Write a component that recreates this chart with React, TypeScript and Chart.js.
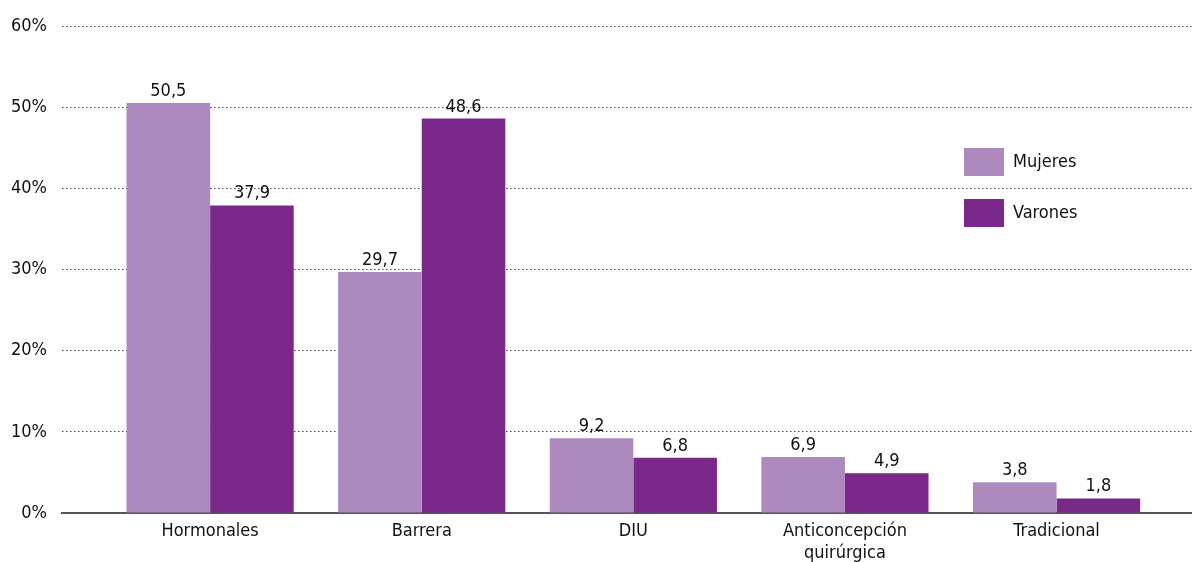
import React, { useEffect, useRef } from "react";
import { Chart, registerables } from "chart.js";

Chart.register(...registerables);

const categories: (string | string[])[] = [
  "Hormonales",
  "Barrera",
  "DIU",
  ["Anticoncepción", "quirúrgica"],
  "Tradicional",
];
const seriesNames = ["Mujeres", "Varones"];
const mujeres = [50.5, 29.7, 9.2, 6.9, 3.8];
const varones = [37.9, 48.6, 6.8, 4.9, 1.8];
const colors = ["#ad89bd", "#7a2889"];
const yTicks = [0, 10, 20, 30, 40, 50, 60];

const FONT = "'DejaVu Sans Condensed', 'DejaVu Sans', sans-serif";
const FS = 18;

const valueLabels = {
  id: "valueLabels",
  afterDatasetsDraw(chart: any) {
    const ctx = chart.ctx;
    ctx.save();
    ctx.font = `${FS}px ${FONT}`;
    ctx.fillStyle = "#111";
    ctx.textAlign = "center";
    ctx.textBaseline = "alphabetic";
    chart.data.datasets.forEach((ds: any, di: number) => {
      const meta = chart.getDatasetMeta(di);
      meta.data.forEach((bar: any, i: number) => {
        const v = ds.data[i].y;
        ctx.fillText(String(v).replace(".", ","), bar.x, bar.y - 7);
      });
    });
    ctx.restore();
  },
};

const customLegend = {
  id: "customLegend",
  afterDraw(chart: any) {
    const ctx = chart.ctx;
    ctx.save();
    ctx.font = `${FS}px ${FONT}`;
    ctx.textAlign = "left";
    ctx.textBaseline = "middle";
    seriesNames.forEach((name, i) => {
      const y = 148 + i * 51;
      ctx.fillStyle = colors[i];
      ctx.fillRect(964, y, 40, 28);
      ctx.fillStyle = "#111";
      ctx.fillText(name, 1013, y + 14);
    });
    ctx.restore();
  },
};

export default function App() {
  const ref = useRef<HTMLCanvasElement>(null);
  useEffect(() => {
    if (!ref.current) return;
    const chart = new Chart(ref.current, {
      type: "bar",
      data: {
        datasets: [
          {
            label: seriesNames[0],
            data: mujeres.map((y, i) => ({ x: i, y })),
            backgroundColor: colors[0],
            borderWidth: 0,
          },
          {
            label: seriesNames[1],
            data: varones.map((y, i) => ({ x: i, y })),
            backgroundColor: colors[1],
            borderWidth: 0,
          },
        ],
      },
      options: {
        animation: false,
        responsive: false,
        maintainAspectRatio: false,
        layout: { padding: { top: 26, right: 0, left: 0, bottom: 0 } },
        datasets: { bar: { categoryPercentage: 0.79, barPercentage: 1 } },
        plugins: { legend: { display: false }, tooltip: { enabled: false } },
        scales: {
          x: {
            type: "linear",
            offset: false,
            min: -0.7,
            max: 4.64,
            afterBuildTicks(scale: any) {
              scale.ticks = categories.map((_, i) => ({ value: i }));
            },
            afterFit(scale: any) {
              scale.height = 49;
            },
            ticks: {
              autoSkip: false,
              maxRotation: 0,
              padding: 8,
              color: "#111",
              font: { family: FONT, size: FS, lineHeight: 1.2 },
              callback: (v: any) => categories[Math.round(v)] as any,
            },
            grid: { display: false, drawTicks: false, offset: false },
            border: { display: true, color: "#555", width: 2 },
          },
          y: {
            min: 0,
            max: 60,
            afterBuildTicks(scale: any) {
              scale.ticks = yTicks.map((v) => ({ value: v }));
            },
            afterFit(scale: any) {
              scale.width = 62;
            },
            ticks: {
              padding: 15,
              color: "#111",
              font: { family: FONT, size: FS },
              callback: (v: any) => v + "%",
            },
            grid: {
              drawTicks: false,
              color: (c: any) => (c.tick && c.tick.value === 0 ? "rgba(0,0,0,0)" : "#444"),
              lineWidth: 1,
            },
            border: { display: false, dash: [1.5, 2.5] },
          },
        },
      },
      plugins: [valueLabels, customLegend],
    });
    return () => chart.destroy();
  }, []);
  return (
    <div style={{ position: "fixed", left: 0, top: 0, width: 1192, height: 562, background: "#fff" }}>
      <canvas ref={ref} width={1192} height={562} style={{ width: 1192, height: 562 }} />
    </div>
  );
}
